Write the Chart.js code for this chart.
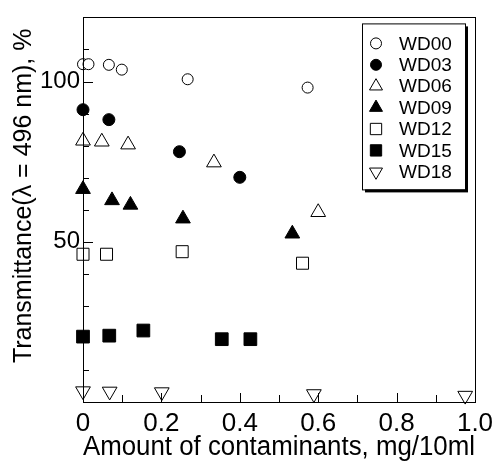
<!DOCTYPE html>
<html>
<head>
<meta charset="utf-8">
<script src="https://cdn.jsdelivr.net/npm/chart.js@4/dist/chart.umd.min.js"></script>
<style>
  html, body { margin: 0; padding: 0; background: #fff; }
  #wrap { width: 502px; height: 461px; }
</style>
</head>
<body>
<div id="wrap"><canvas id="grafica"></canvas></div>
<script>
// datos
const series = ["WD00", "WD03", "WD06", "WD09", "WD12", "WD15", "WD18"]
const xWD00 = [0, 0.014, 0.066, 0.099, 0.267, 0.573]
const yWD00 = [105.4, 105.4, 105.2, 103.7, 100.7, 98.1]
const xWD03 = [0, 0.066, 0.246, 0.40]
const yWD03 = [91.2, 88.1, 78.1, 70.1]
const xWD06 = [0, 0.048, 0.115, 0.334, 0.60]
const yWD06 = [81.5, 81.2, 80.3, 74.7, 59.2]
const xWD09 = [0, 0.074, 0.121, 0.255, 0.534]
const yWD09 = [66.4, 62.9, 61.5, 57.2, 52.5]
const xWD12 = [0, 0.06, 0.253, 0.56]
const yWD12 = [46.1, 46.1, 46.9, 43.3]
const xWD15 = [0, 0.067, 0.154, 0.354, 0.427]
const yWD15 = [20.4, 20.7, 22.3, 19.6, 19.6]
const xWD18 = [0, 0.068, 0.201, 0.589, 0.975]
const yWD18 = [3.4, 3.3, 3.1, 2.5, 2.0]
const xLabels = ["0", "0.2", "0.4", "0.6", "0.8", "1.0"]
const yLabels = ["50", "100"]

const fuente = "'Liberation Sans', Arial, sans-serif"

function pares(xs, ys) {
    return xs.map((v, i) => ({x: v, y: ys[i]}))
}

// estilo de cada serie: [forma, relleno, radio, rotacion]
const estilos = [
    ["circle", "#fff", 5.5, 0],
    ["circle", "#000", 6, 0],
    ["triangle", "#fff", 8.5, 0],
    ["triangle", "#000", 8.5, 0],
    ["rect", "#fff", 8.5, 0],
    ["rect", "#000", 9, 0],
    ["triangle", "#fff", 8.5, 180],
]
const datosX = [xWD00, xWD03, xWD06, xWD09, xWD12, xWD15, xWD18]
const datosY = [yWD00, yWD03, yWD06, yWD09, yWD12, yWD15, yWD18]

const datasets = series.map((nombre, i) => ({
    label: nombre,
    data: pares(datosX[i], datosY[i]),
    pointStyle: estilos[i][0],
    backgroundColor: estilos[i][1],
    borderColor: "#000",
    borderWidth: 1,
    pointRadius: estilos[i][2],
    pointHoverRadius: estilos[i][2],
    rotation: estilos[i][3],
    showLine: false,
    clip: false,
}))

// marco, ticks hacia adentro y leyenda con sombra
const marco = {
    id: "marco",
    afterDatasetsDraw(chart) {
        const ctx = chart.ctx
        const a = chart.chartArea
        const sx = chart.scales.x
        const sy = chart.scales.y
        ctx.save()
        ctx.strokeStyle = "#000"
        ctx.lineWidth = 1
        ctx.beginPath()
        sx.ticks.forEach(t => {
            const px = Math.round(sx.getPixelForValue(t.value)) + 0.5
            const largo = Math.round(t.value * 10) % 2 === 0 ? 9 : 7
            ctx.moveTo(px, a.bottom)
            ctx.lineTo(px, a.bottom - largo)
        })
        sy.ticks.forEach(t => {
            const py = Math.round(sy.getPixelForValue(t.value)) + 0.5
            const largo = Math.round(t.value) % 50 === 0 ? 10 : 6
            ctx.moveTo(a.left, py)
            ctx.lineTo(a.left + largo, py)
        })
        ctx.stroke()
        ctx.strokeRect(Math.round(a.left) + 0.5, Math.round(a.top) + 0.5,
            Math.round(a.right - a.left), Math.round(a.bottom - a.top))
        ctx.restore()
    },
    afterDraw(chart) {
        const ctx = chart.ctx
        const a = chart.chartArea
        const bx = a.right - 113, by = a.top + 6, bw = 103, bh = 166
        ctx.save()
        ctx.fillStyle = "#000"
        ctx.fillRect(bx + 3, by + 3, bw, bh)
        ctx.fillStyle = "#fff"
        ctx.fillRect(bx, by, bw, bh)
        ctx.strokeStyle = "#000"
        ctx.lineWidth = 1
        ctx.strokeRect(bx + 0.5, by + 0.5, bw, bh)
        ctx.font = "19px " + fuente
        ctx.textBaseline = "middle"
        chart.data.datasets.forEach((d, i) => {
            const yy = by + 20 + i * 21.4
            ctx.fillStyle = d.backgroundColor
            ctx.strokeStyle = "#000"
            Chart.helpers.drawPoint(ctx, {
                pointStyle: d.pointStyle,
                radius: d.pointStyle === "circle" ? 5.5 : (d.pointStyle === "rect" ? 8 : 7.5),
                rotation: d.rotation,
                borderWidth: 1,
            }, bx + 14, yy)
            ctx.fillStyle = "#000"
            ctx.fillText(d.label, bx + 37, yy + 1)
        })
        ctx.restore()
    }
}

const grafica = document.getElementById("grafica")
const myChart = new Chart(grafica, {
    type: "scatter",
    data: { datasets: datasets },
    options: {
        responsive: true,
        maintainAspectRatio: false,
        animation: false,
        events: [],
        layout: { padding: { top: 10, right: 27, left: 0, bottom: 0 } },
        plugins: {
            legend: { display: false },
            tooltip: { enabled: false },
        },
        scales: {
            x: {
                type: "linear",
                min: 0,
                max: 1,
                grid: { display: false, drawTicks: false },
                border: { display: false },
                ticks: {
                    stepSize: 0.1,
                    autoSkip: false,
                    maxRotation: 0,
                    color: "#000",
                    padding: 6,
                    font: { family: fuente, size: 26 },
                    callback: v => {
                        const k = Math.round(v * 10)
                        return k % 2 === 0 ? xLabels[k / 2] : ""
                    },
                },
                title: {
                    display: true,
                    text: "Amount of contaminants, mg/10ml",
                    color: "#000",
                    font: { family: fuente, size: 27, lineHeight: 1 },
                    padding: { top: 0, bottom: 0 },
                },
                afterFit: s => { s.height = 59 },
            },
            y: {
                type: "linear",
                min: 0,
                max: 120,
                grid: { display: false, drawTicks: false },
                border: { display: false },
                ticks: {
                    stepSize: 10,
                    autoSkip: false,
                    color: "#000",
                    padding: 3,
                    font: { family: fuente, size: 24 },
                    callback: v => {
                        const k = Math.round(v)
                        return k === 50 ? yLabels[0] : (k === 100 ? yLabels[1] : "")
                    },
                },
                title: {
                    display: true,
                    text: "\u00a0\u00a0\u00a0\u00a0Transmittance(λ = 496 nm), %",
                    color: "#000",
                    font: { family: fuente, size: 25, lineHeight: 1 },
                    padding: { top: 12, bottom: 0 },
                },
                afterFit: s => { s.width = 83 },
            },
        },
    },
    plugins: [marco],
})
</script>
</body>
</html>
